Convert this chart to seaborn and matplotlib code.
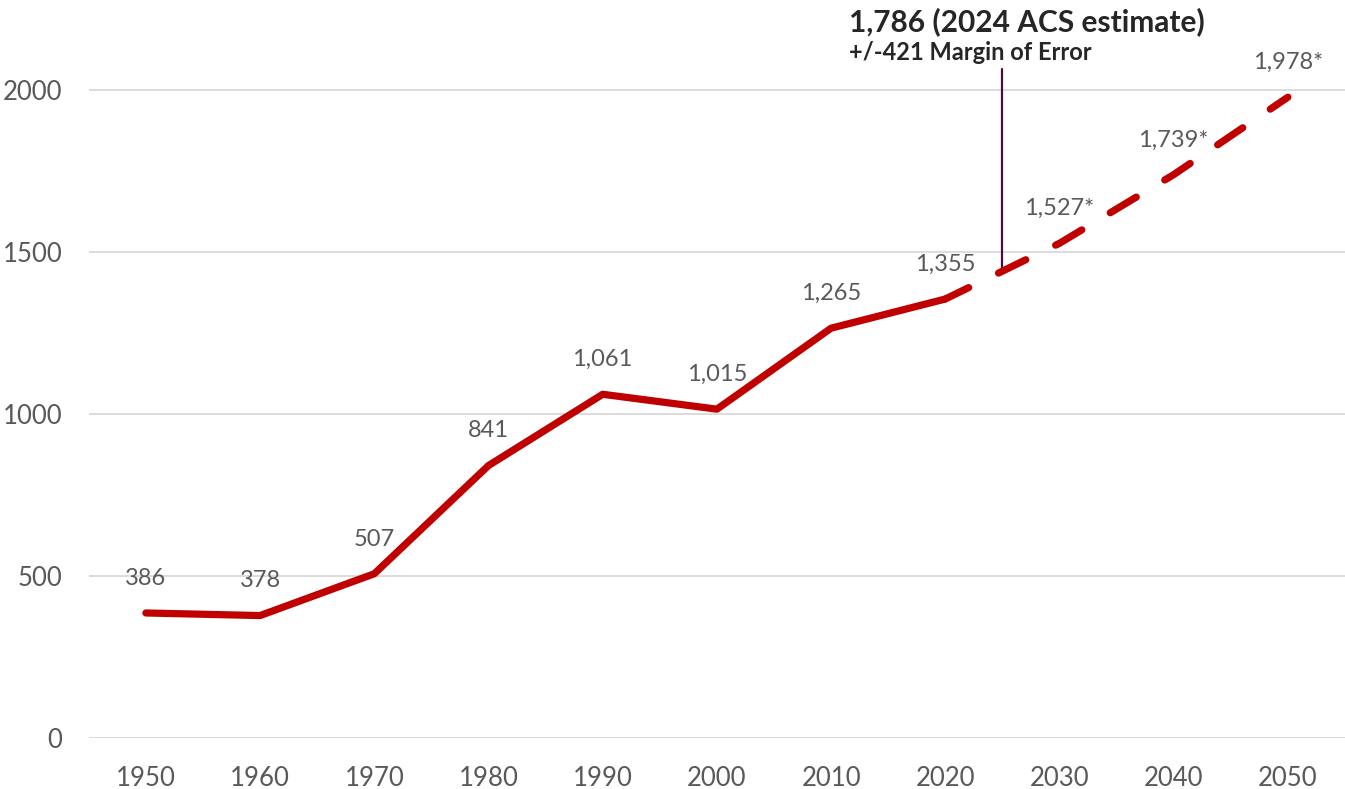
import matplotlib
matplotlib.use("Agg")
import matplotlib.pyplot as plt
import seaborn as sns
import pandas as pd

years = ["1950", "1960", "1970", "1980", "1990", "2000", "2010", "2020", "2030", "2040", "2050"]
actual_years = ["1950", "1960", "1970", "1980", "1990", "2000", "2010", "2020"]
actual_values = [386, 378, 507, 841, 1061, 1015, 1265, 1355]
proj_years = ["2020", "2030", "2040", "2050"]
proj_values = [1355, 1527, 1739, 1978]
actual_labels = ["386", "378", "507", "841", "1,061", "1,015", "1,265", "1,355"]
proj_labels = ["1,527*", "1,739*", "1,978*"]
y_ticks = [0, 500, 1000, 1500, 2000]
acs_title = "1,786 (2024 ACS estimate)"
acs_sub = "+/-421 Margin of Error"

sns.set_theme(style="white")
plt.rcParams['font.family'] = ['Lato', 'DejaVu Sans']

RED = "#C00000"
GREY = "#595959"

fig = plt.figure(figsize=(13.45, 7.89), dpi=100)
ax = fig.add_axes([0.066, 0.0646, 0.934, 0.9034])

pos = {y: i for i, y in enumerate(years)}
df_a = pd.DataFrame({"x": [pos[y] for y in actual_years], "v": actual_values})
df_p = pd.DataFrame({"x": [pos[y] for y in proj_years], "v": proj_values})

for yt in y_ticks:
    ax.axhline(yt, color="#D9D9D9", lw=1.3, zorder=0)

sns.lineplot(data=df_a, x="x", y="v", ax=ax, color=RED, lw=5.2,
             solid_capstyle="round", solid_joinstyle="round", zorder=3)
sns.lineplot(data=df_p, x="x", y="v", ax=ax, color=RED, lw=5.2,
             dashes=False, zorder=3)
ax.lines[-1].set_linestyle((0.6, (4.2, 4.6)))
ax.lines[-1].set_dash_capstyle("round")

for x, v, t in zip(df_a["x"], actual_values, actual_labels):
    ax.annotate(t, (x, v), xytext=(0, 25), textcoords="offset points",
                ha="center", va="center", fontsize=17, color=GREY)
for x, v, t in zip(df_p["x"][1:], proj_values[1:], proj_labels):
    ax.annotate(t, (x, v), xytext=(0, 25), textcoords="offset points",
                ha="center", va="center", fontsize=17, color=GREY)

# ACS estimate marker line at 2025
xm = 7.5
ym = (proj_values[0] + proj_values[1]) / 2
ax.plot([xm, xm], [ym, 2065], color="#4B0C3F", lw=1.6, zorder=2, clip_on=False)
ax.text(6.16, 2212, acs_title, fontsize=21.5, fontweight="bold", color="#262626",
        ha="left", va="center", clip_on=False)
ax.text(6.16, 2115, acs_sub, fontsize=17, fontweight="bold", color="#262626",
        ha="left", va="center", clip_on=False)

ax.set_xlim(-0.5, 10.5)
ax.set_ylim(0, 2200)
ax.set_xticks(range(len(years)))
ax.set_xticklabels(years)
ax.set_yticks(y_ticks)
ax.tick_params(axis="both", labelsize=18.5, labelcolor=GREY, length=0)
ax.tick_params(axis="y", pad=19)
ax.tick_params(axis="x", pad=20)
ax.set_xlabel("")
ax.set_ylabel("")
for s in ax.spines.values():
    s.set_visible(False)

fig.savefig("out.png", dpi=100)
